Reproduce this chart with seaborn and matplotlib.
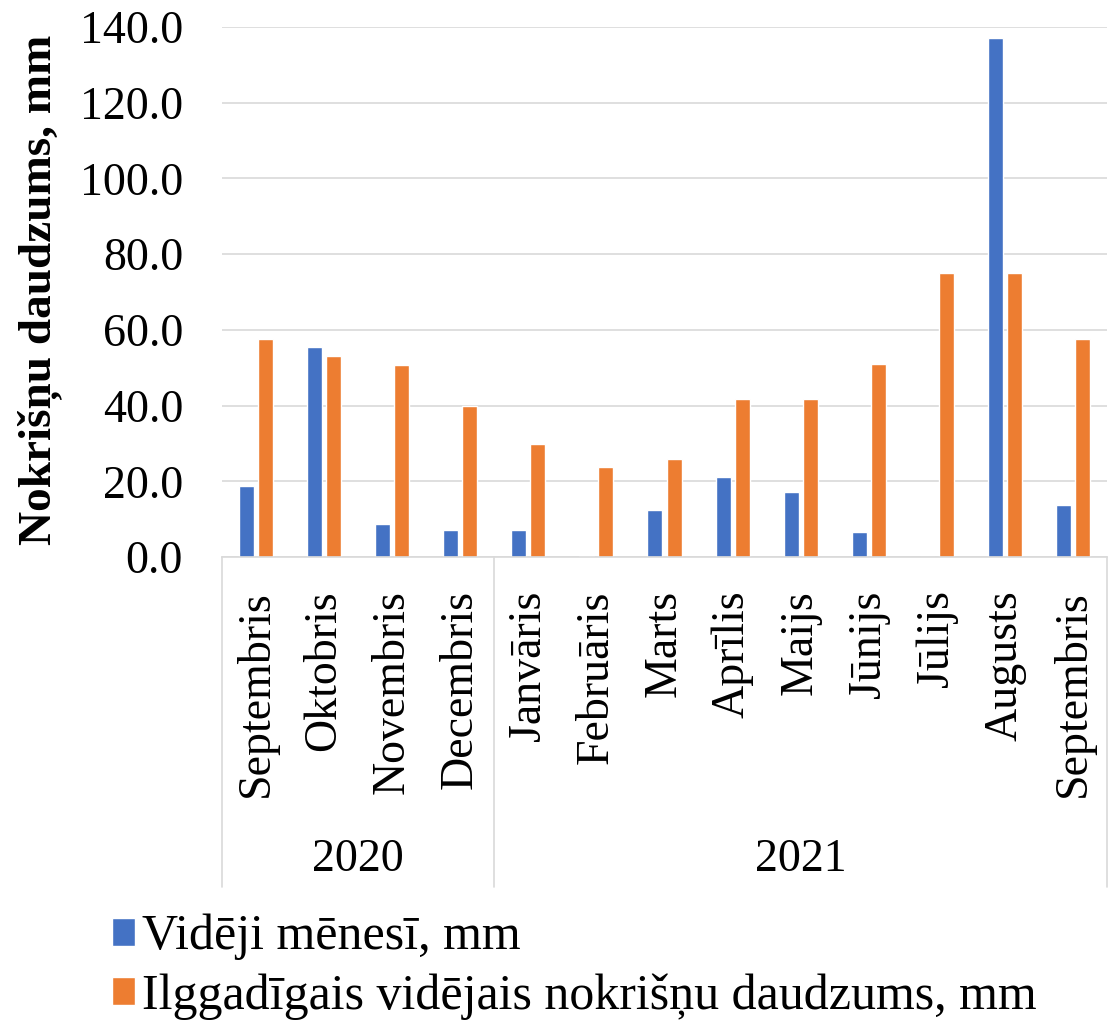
import pandas as pd
import matplotlib.pyplot as plt
import seaborn as sns

# ---- Data ----
months = ["Septembris", "Oktobris", "Novembris", "Decembris", "Janvāris", "Februāris",
          "Marts", "Aprīlis", "Maijs", "Jūnijs", "Jūlijs", "Augusts", "Septembris"]
years = ["2020", "2021"]
year_counts = [4, 9]
monthly = [18.7, 55.5, 8.6, 7.2, 7.2, 0.3, 12.3, 21.2, 17.2, 6.7, 0.0, 137.2, 13.8]
longterm = [57.7, 53.0, 50.8, 39.9, 29.8, 23.7, 25.8, 41.8, 41.8, 50.9, 74.9, 74.9, 57.6]
series_names = ["Vidēji mēnesī, mm", "Ilggadīgais vidējais nokrišņu daudzums, mm"]
colors = ["#4472C4", "#ED7D31"]

# unique keys for x so the two "Septembris" stay apart
keys = [f"{i}" for i in range(len(months))]
df = pd.DataFrame({
    "key": keys * 2,
    "value": monthly + longterm,
    "series": [series_names[0]] * len(keys) + [series_names[1]] * len(keys),
})

# ---- Plot ----
sns.set_style("white")
plt.rcParams["font.family"] = ["Liberation Serif", "DejaVu Serif"]
plt.rcParams["text.color"] = "black"
plt.rcParams["xtick.color"] = "black"
plt.rcParams["ytick.color"] = "black"
FS = 33
grey = "#D9D9D9"

fig = plt.figure(figsize=(11.14, 10.30), dpi=100)
ax = fig.add_axes([222/1114, 1 - 557/1030, 885/1114, 530/1030])

sns.barplot(data=df, x="key", y="value", hue="series", order=keys,
            palette=colors, saturation=1, width=0.56, gap=0.21, ax=ax)

ax.set_ylim(0, 140)
ax.set_xlim(-0.5, len(keys) - 0.5)
ax.set_yticks(range(0, 141, 20))
ax.set_yticklabels([f"{v:.1f}" for v in range(0, 141, 20)], fontsize=FS)
ax.set_xticks(range(len(keys)))
ax.set_xticklabels(months, rotation=90, fontsize=FS, va="top")
ax.tick_params(axis="y", length=0, pad=28, labelcolor="black")
ax.tick_params(axis="x", length=0, pad=24, labelcolor="black")
ax.set_xlabel("")
ax.set_ylabel("")
ax.grid(axis="y", color=grey, linewidth=1.2)
ax.set_axisbelow(True)
for s in ["top", "right", "left"]:
    ax.spines[s].set_visible(False)
ax.spines["bottom"].set_color(grey)
ax.spines["bottom"].set_linewidth(1.2)

# ---- Year grouping below the months ----
trans = ax.get_xaxis_transform()
line_bottom = -(887 - 557) / 530
start = -0.5
ax.plot([start, start], [0, line_bottom], color=grey, lw=1.2, transform=trans, clip_on=False)
for yr, cnt in zip(years, year_counts):
    end = start + cnt
    ax.plot([end, end], [0, line_bottom], color=grey, lw=1.2, transform=trans, clip_on=False)
    ax.text((start + end) / 2, -(860 - 557) / 530, yr, transform=trans,
            ha="center", va="center", fontsize=FS, color="black")
    start = end

fig.text(40/1114, 1 - 290/1030, "Nokrišņu daudzums, mm", rotation=90,
         ha="center", va="center", fontsize=34, fontweight="bold", color="black")

# ---- Legend ----
handles, labels = ax.get_legend_handles_labels()
ax.get_legend().remove()
fig.legend(handles, labels, loc="upper left", bbox_to_anchor=(112/1114, 1 - 914/1030),
           frameon=False, fontsize=36, handlelength=0.45, handleheight=0.5,
           handletextpad=0.15, labelspacing=0.25, borderpad=0, borderaxespad=0,
           labelcolor="black")

fig.savefig("out.png", dpi=100)
